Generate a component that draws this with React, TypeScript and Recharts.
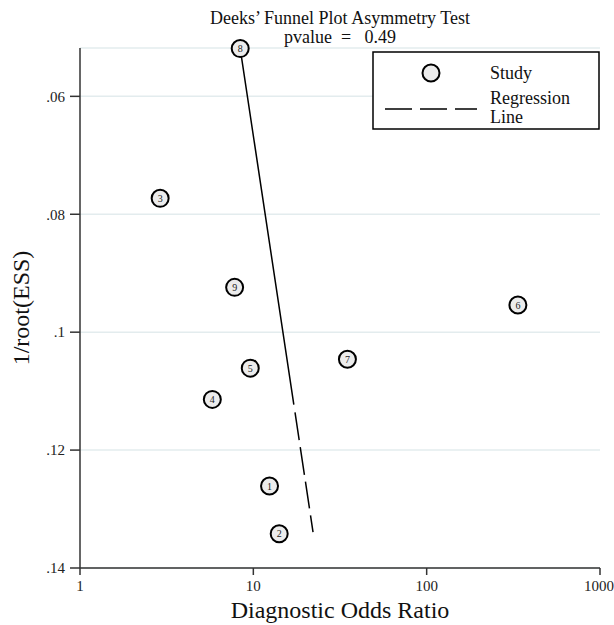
import { ScatterChart, Scatter, XAxis, YAxis, CartesianGrid, Customized } from 'recharts';

// study points: diagnostic odds ratio vs 1/root(ESS)
const studyIds = [1, 2, 3, 4, 5, 6, 7, 8, 9];
const studyDor = [12.4, 14.1, 2.9, 5.8, 9.6, 336, 34.9, 8.4, 7.8];
const studyEss = [0.1261, 0.1342, 0.0773, 0.1114, 0.1061, 0.0954, 0.1046, 0.0519, 0.0924];

// regression line end points
const regDor = [8.4, 22.1];
const regEss = [0.0519, 0.1339];

const xTicks = [1, 10, 100, 1000];
const yTicks = [0.06, 0.08, 0.1, 0.12, 0.14];

const studies = studyIds.map((id, i) => ({ id, x: studyDor[i], y: studyEss[i] }));
const regression = regDor.map((x, i) => ({ x, y: regEss[i] }));

const FONT = '"Liberation Serif", "DejaVu Serif", serif';

const fmtY = (v: number) => String(v).replace(/^0/, '');

const StudyMarker = (props: any) => {
  const { cx, cy, payload } = props;
  if (cx == null || cy == null) return null;
  return (
    <g>
      <circle cx={cx} cy={cy} r={8.5} fill="#ececec" stroke="#000" strokeWidth={2} />
      <text x={cx} y={cy + 3.5} textAnchor="middle" fontSize={10} fontFamily={FONT} fill="#222">
        {payload.id}
      </text>
    </g>
  );
};

const Overlay = () => (
  <g fontFamily={FONT} fill="#111">
    <text x={340} y={24} textAnchor="middle" fontSize={18}>Deeks’ Funnel Plot Asymmetry Test</text>
    <text x={340} y={43} textAnchor="middle" fontSize={18} style={{ whiteSpace: 'pre' }}>pvalue  =   0.49</text>
    {/* legend */}
    <rect x={373} y={52} width={226} height={77} fill="#fff" stroke="#000" strokeWidth={1.5} />
    <circle cx={431} cy={73} r={8.5} fill="#ececec" stroke="#000" strokeWidth={2} />
    <text x={490} y={79} fontSize={18}>Study</text>
    <line x1={385} y1={109} x2={477} y2={109} stroke="#000" strokeWidth={1.5} strokeDasharray="27 8 27 8 22" />
    <text x={490} y={104} fontSize={18}>Regression</text>
    <text x={490} y={123} fontSize={18}>Line</text>
  </g>
);

export default function App() {
  return (
    <div style={{ position: 'absolute', left: 0, top: 0, background: '#fff' }}>
      <ScatterChart width={614} height={625} margin={{ top: 48, right: 14, bottom: 0, left: 0 }}>
        <CartesianGrid vertical={false} stroke="#e3ecee" strokeWidth={1.5} />
        <XAxis
          type="number"
          dataKey="x"
          scale="log"
          domain={[1, 1000]}
          ticks={xTicks}
          height={57}
          tickSize={7}
          tickMargin={5}
          stroke="#333"
          strokeWidth={1.5}
          tick={{ fontSize: 15, fontFamily: FONT, fill: '#222' }}
          label={{ value: 'Diagnostic Odds Ratio', position: 'insideBottom', offset: 7, fontSize: 24, fontFamily: FONT, fill: '#111' }}
        />
        <YAxis
          type="number"
          dataKey="y"
          reversed
          domain={[0.0518, 0.14]}
          ticks={yTicks}
          width={80}
          tickSize={10}
          tickMargin={5}
          stroke="#333"
          strokeWidth={1.5}
          tickFormatter={fmtY}
          tick={{ fontSize: 15, fontFamily: FONT, fill: '#222' }}
          label={{ value: '1/root(ESS)', angle: -90, position: 'insideLeft', offset: 20, fontSize: 24, fontFamily: FONT, fill: '#111', style: { textAnchor: 'middle' } }}
        />
        <Scatter
          data={regression}
          isAnimationActive={false}
          line={{ stroke: '#000', strokeWidth: 1.5, strokeDasharray: '360 8 28 7 28 7 27 7 17' }}
          shape={() => <g />}
        />
        <Scatter data={studies} isAnimationActive={false} shape={StudyMarker} />
        <Customized component={Overlay} />
      </ScatterChart>
    </div>
  );
}
